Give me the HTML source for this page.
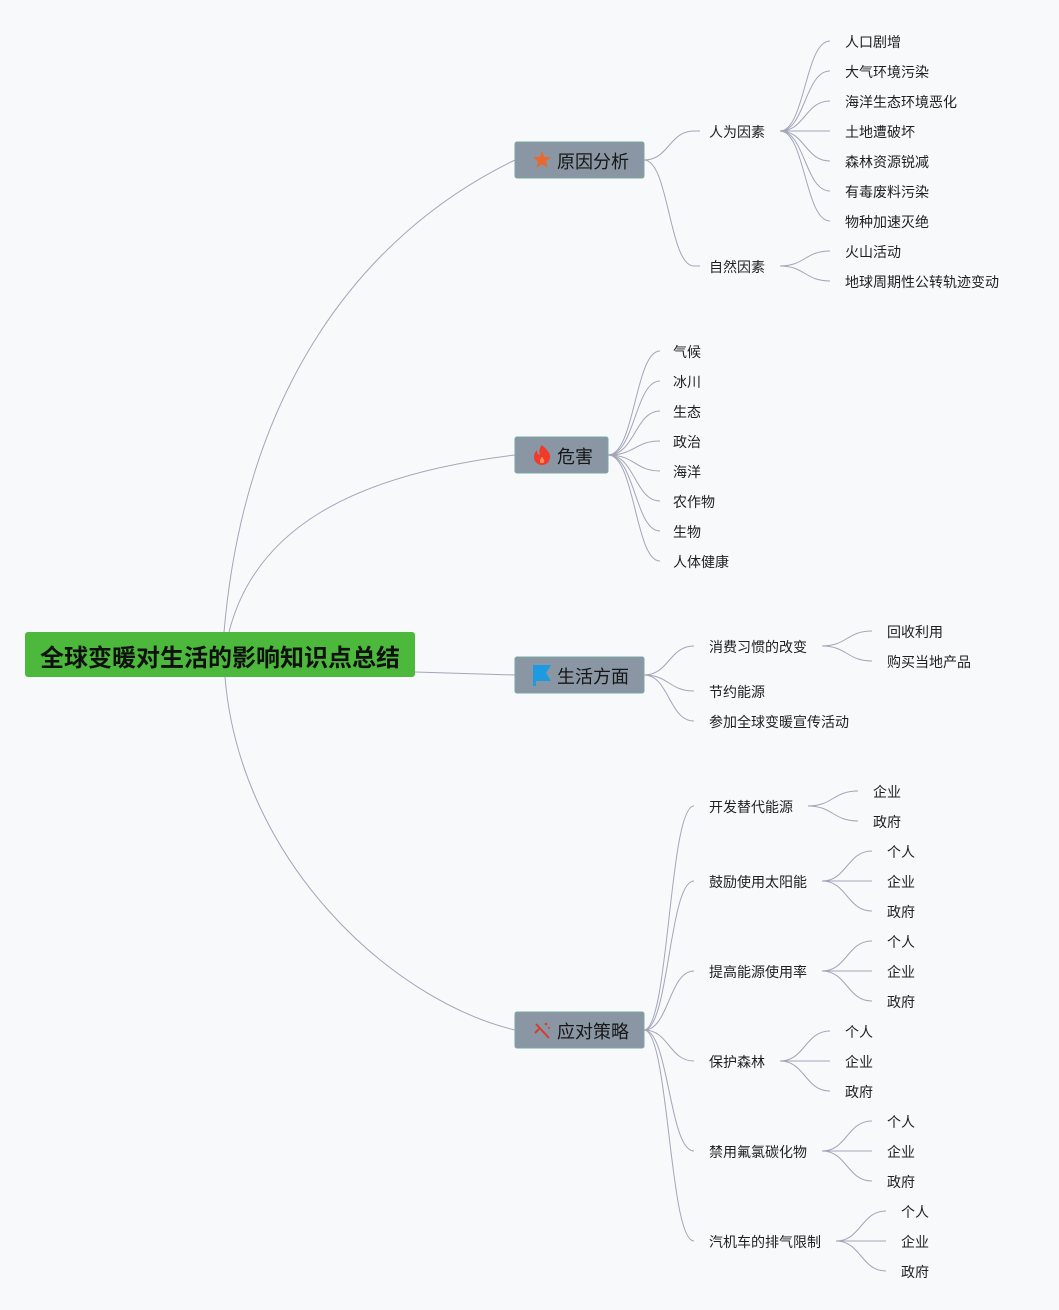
<!DOCTYPE html>
<html><head><meta charset="utf-8">
<style>
html,body{margin:0;padding:0;background:#f8f9fb;}
svg{display:block;}
text{font-family:"Liberation Sans","Noto Sans CJK SC",sans-serif;fill:#1f1f1f;}
.l{font-size:14px;}
.m{font-size:18px;fill:#161616;}
.r{font-size:24px;font-weight:bold;fill:#111;}
path.c{fill:none;stroke:#a2a6b8;stroke-width:1;}
</style></head>
<body>
<svg width="1059" height="1310" viewBox="0 0 1059 1310" xmlns="http://www.w3.org/2000/svg">
<rect x="0" y="0" width="1059" height="1310" fill="#f8f9fb"/>

<!-- root connectors -->
<path class="c" d="M224 632 C245 390, 360 235, 515 160"/>
<path class="c" d="M229 632 C255 530, 350 475, 515 455"/>
<path class="c" d="M415 672 L515 675"/>
<path class="c" d="M225 677 C240 860, 390 1000, 515 1030"/>

<!-- 原因分析 connectors -->
<path class="c" d="M644 160 C669 160, 669 131, 694 131 L700 131"/>
<path class="c" d="M644 160 C669 160, 669 266, 694 266 L700 266"/>
<path class="c" d="M780 131 C805 131, 805 41, 830 41"/>
<path class="c" d="M780 131 C805 131, 805 71, 830 71"/>
<path class="c" d="M780 131 C805 131, 805 101, 830 101"/>
<path class="c" d="M780 131 L830 131"/>
<path class="c" d="M780 131 C805 131, 805 161, 830 161"/>
<path class="c" d="M780 131 C805 131, 805 191, 830 191"/>
<path class="c" d="M780 131 C805 131, 805 221, 830 221"/>
<path class="c" d="M780 266 C805 266, 805 251, 830 251"/>
<path class="c" d="M780 266 C805 266, 805 281, 830 281"/>

<!-- 危害 connectors -->
<path class="c" d="M608 455 C635 455, 635 351, 660 351"/>
<path class="c" d="M608 455 C635 455, 635 381, 660 381"/>
<path class="c" d="M608 455 C635 455, 635 411, 660 411"/>
<path class="c" d="M608 455 C635 455, 635 441, 660 441"/>
<path class="c" d="M608 455 C635 455, 635 471, 660 471"/>
<path class="c" d="M608 455 C635 455, 635 501, 660 501"/>
<path class="c" d="M608 455 C635 455, 635 531, 660 531"/>
<path class="c" d="M608 455 C635 455, 635 561, 660 561"/>

<!-- 生活方面 connectors -->
<path class="c" d="M644 675 C669 675, 669 646, 694 646"/>
<path class="c" d="M644 675 C669 675, 669 691, 694 691"/>
<path class="c" d="M644 675 C669 675, 669 721, 694 721"/>
<path class="c" d="M822 646 C847 646, 847 631, 872 631"/>
<path class="c" d="M822 646 C847 646, 847 661, 872 661"/>

<!-- 应对策略 connectors -->
<path class="c" d="M644 1030 C669 1030, 669 806, 694 806"/>
<path class="c" d="M644 1030 C669 1030, 669 881, 694 881"/>
<path class="c" d="M644 1030 C669 1030, 669 971, 694 971"/>
<path class="c" d="M644 1030 C669 1030, 669 1061, 694 1061"/>
<path class="c" d="M644 1030 C669 1030, 669 1151, 694 1151"/>
<path class="c" d="M644 1030 C669 1030, 669 1241, 694 1241"/>

<path class="c" d="M808 806 C833 806, 833 791, 858 791"/>
<path class="c" d="M808 806 C833 806, 833 821, 858 821"/>

<path class="c" d="M822 881 C847 881, 847 851, 872 851"/>
<path class="c" d="M822 881 L872 881"/>
<path class="c" d="M822 881 C847 881, 847 911, 872 911"/>

<path class="c" d="M822 971 C847 971, 847 941, 872 941"/>
<path class="c" d="M822 971 L872 971"/>
<path class="c" d="M822 971 C847 971, 847 1001, 872 1001"/>

<path class="c" d="M780 1061 C805 1061, 805 1031, 830 1031"/>
<path class="c" d="M780 1061 L830 1061"/>
<path class="c" d="M780 1061 C805 1061, 805 1091, 830 1091"/>

<path class="c" d="M822 1151 C847 1151, 847 1121, 872 1121"/>
<path class="c" d="M822 1151 L872 1151"/>
<path class="c" d="M822 1151 C847 1151, 847 1181, 872 1181"/>

<path class="c" d="M836 1241 C861 1241, 861 1211, 886 1211"/>
<path class="c" d="M836 1241 L886 1241"/>
<path class="c" d="M836 1241 C861 1241, 861 1271, 886 1271"/>

<!-- root node -->
<rect x="25" y="632" width="390" height="45" rx="3" fill="#4cb93d"/>
<text class="r" x="220" y="666" text-anchor="middle">全球变暖对生活的影响知识点总结</text>

<!-- main nodes -->
<rect x="515" y="142" width="129" height="36" rx="2" fill="#8a96a4" stroke="#78a8a2" stroke-width="1"/>
<polygon fill="#e8692f" points="542,151 544.4,157 551,157.3 545.9,161.4 547.6,167.8 542,164.2 536.4,167.8 538.1,161.4 533,157.3 539.6,157"/>
<text class="m" x="557" y="168">原因分析</text>

<rect x="515" y="437" width="93" height="36" rx="2" fill="#8a96a4" stroke="#78a8a2" stroke-width="1"/>
<path fill="#f03a2a" d="M542 445 C546 449, 551 453, 550 458 C549.5 462, 546 465, 542 465 C538 465, 534.5 462, 534 458 C533.5 454, 536 451, 537 450 C537 453, 538 455, 540 455 C538.5 451, 540 447, 542 445 Z"/>
<path fill="#ff8a5a" d="M542 457 C544 459, 545 461, 543.5 463 L540.5 463 C539.5 461, 540 459, 542 457 Z"/>
<text class="m" x="557" y="463">危害</text>

<rect x="515" y="657" width="129" height="36" rx="2" fill="#8a96a4" stroke="#78a8a2" stroke-width="1"/>
<polygon fill="#1d9ae0" points="533,665 551,665 546,673 551,681 536,681 536,686 533,686"/>
<text class="m" x="557" y="683">生活方面</text>

<rect x="515" y="1012" width="129" height="36" rx="2" fill="#8a96a4" stroke="#78a8a2" stroke-width="1"/>
<line x1="536" y1="1024" x2="549" y2="1038" stroke="#d83a2e" stroke-width="2"/>
<line x1="535" y1="1033" x2="539" y2="1029" stroke="#d83a2e" stroke-width="2"/>
<circle cx="546" cy="1024" r="1.3" fill="#d83a2e"/>
<circle cx="549" cy="1028" r="1" fill="#d83a2e"/>
<text class="m" x="557" y="1038">应对策略</text>

<!-- 原因分析 children -->
<text class="l" x="709" y="137">人为因素</text>
<text class="l" x="709" y="272">自然因素</text>
<text class="l" x="845" y="47">人口剧增</text>
<text class="l" x="845" y="77">大气环境污染</text>
<text class="l" x="845" y="107">海洋生态环境恶化</text>
<text class="l" x="845" y="137">土地遭破坏</text>
<text class="l" x="845" y="167">森林资源锐减</text>
<text class="l" x="845" y="197">有毒废料污染</text>
<text class="l" x="845" y="227">物种加速灭绝</text>
<text class="l" x="845" y="257">火山活动</text>
<text class="l" x="845" y="287">地球周期性公转轨迹变动</text>

<!-- 危害 children -->
<text class="l" x="673" y="357">气候</text>
<text class="l" x="673" y="387">冰川</text>
<text class="l" x="673" y="417">生态</text>
<text class="l" x="673" y="447">政治</text>
<text class="l" x="673" y="477">海洋</text>
<text class="l" x="673" y="507">农作物</text>
<text class="l" x="673" y="537">生物</text>
<text class="l" x="673" y="567">人体健康</text>

<!-- 生活方面 children -->
<text class="l" x="709" y="652">消费习惯的改变</text>
<text class="l" x="709" y="697">节约能源</text>
<text class="l" x="709" y="727">参加全球变暖宣传活动</text>
<text class="l" x="887" y="637">回收利用</text>
<text class="l" x="887" y="667">购买当地产品</text>

<!-- 应对策略 children -->
<text class="l" x="709" y="812">开发替代能源</text>
<text class="l" x="873" y="797">企业</text>
<text class="l" x="873" y="827">政府</text>

<text class="l" x="709" y="887">鼓励使用太阳能</text>
<text class="l" x="887" y="857">个人</text>
<text class="l" x="887" y="887">企业</text>
<text class="l" x="887" y="917">政府</text>

<text class="l" x="709" y="977">提高能源使用率</text>
<text class="l" x="887" y="947">个人</text>
<text class="l" x="887" y="977">企业</text>
<text class="l" x="887" y="1007">政府</text>

<text class="l" x="709" y="1067">保护森林</text>
<text class="l" x="845" y="1037">个人</text>
<text class="l" x="845" y="1067">企业</text>
<text class="l" x="845" y="1097">政府</text>

<text class="l" x="709" y="1157">禁用氟氯碳化物</text>
<text class="l" x="887" y="1127">个人</text>
<text class="l" x="887" y="1157">企业</text>
<text class="l" x="887" y="1187">政府</text>

<text class="l" x="709" y="1247">汽机车的排气限制</text>
<text class="l" x="901" y="1217">个人</text>
<text class="l" x="901" y="1247">企业</text>
<text class="l" x="901" y="1277">政府</text>
</svg>
</body></html>
